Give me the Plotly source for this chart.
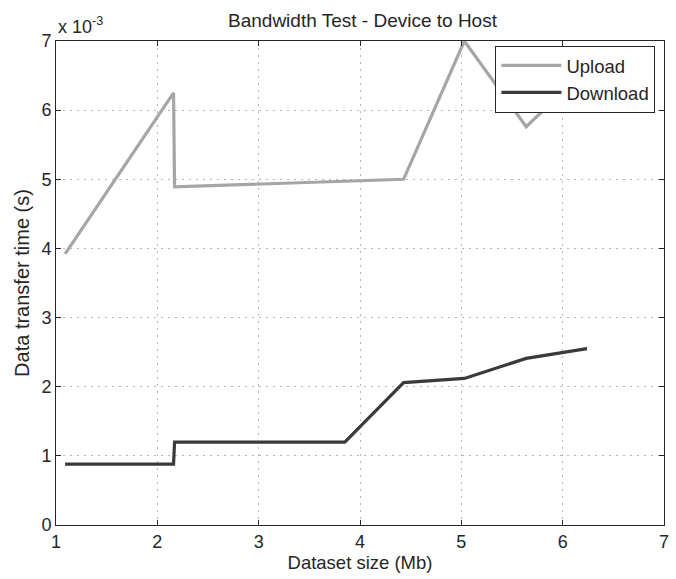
import plotly.graph_objects as go

# Data (dataset size in Mb, transfer time in seconds)
dataset_size = [1.09, 2.16, 2.17, 3.85, 4.43, 5.03, 5.64, 6.24]
upload_time = [3.92e-3, 6.25e-3, 4.89e-3, 4.97e-3, 5.0e-3, 7.0e-3, 5.76e-3, 6.6e-3]
download_time = [0.88e-3, 0.88e-3, 1.2e-3, 1.2e-3, 2.06e-3, 2.12e-3, 2.41e-3, 2.55e-3]

x_ticks = [1, 2, 3, 4, 5, 6, 7]
y_tick_labels = ["0", "1", "2", "3", "4", "5", "6", "7"]
y_tick_vals = [i * 1e-3 for i in range(8)]

FONT = "Liberation Sans, Arial, sans-serif"
INK = "#262626"

fig = go.Figure()
fig.add_trace(go.Scatter(x=dataset_size, y=upload_time, mode="lines", name="Upload",
                         line=dict(color="#a6a6a6", width=3.2)))
fig.add_trace(go.Scatter(x=dataset_size, y=download_time, mode="lines", name="Download",
                         line=dict(color="#3a3a3a", width=3.2)))

axis_common = dict(showline=True, linecolor=INK, linewidth=1, mirror="ticks",
                   ticks="inside", ticklen=5, tickcolor=INK,
                   showgrid=True, gridcolor="#b5b5b5", griddash="2px,5px", gridwidth=1,
                   zeroline=False, tickfont=dict(family=FONT, size=18, color=INK))

fig.update_layout(
    width=676, height=579,
    margin=dict(l=56, r=7, t=41, b=54),
    paper_bgcolor="white", plot_bgcolor="white",
    font=dict(family=FONT, color=INK),
    title=dict(text="Bandwidth Test - Device to Host", x=(56 + 669) / 2 / 676, xanchor="center",
               y=1 - 20 / 579, yanchor="middle", font=dict(family=FONT, size=19, color=INK)),
    xaxis=dict(range=[1, 7], tickvals=x_ticks, ticktext=[str(v) for v in x_ticks],
               title=dict(text="Dataset size (Mb)", font=dict(family=FONT, size=18.5), standoff=2),
               **axis_common),
    yaxis=dict(range=[0, 7e-3], tickvals=y_tick_vals, ticktext=y_tick_labels,
               title=dict(text="Data transfer time (s)", font=dict(family=FONT, size=20), standoff=6),
               **axis_common),
    legend=dict(x=0.7227, y=0.99, xanchor="left", yanchor="top",
                bgcolor="white", bordercolor=INK, borderwidth=1,
                font=dict(family=FONT, size=18.5, color=INK),
                tracegroupgap=0, itemwidth=60),
    showlegend=True,
)

fig.add_annotation(text="x 10<sup>-3</sup>", xref="paper", yref="paper", x=0, y=1.005,
                   xanchor="left", yanchor="bottom", showarrow=False,
                   font=dict(family=FONT, size=18, color=INK))

fig.write_html("out.html")
